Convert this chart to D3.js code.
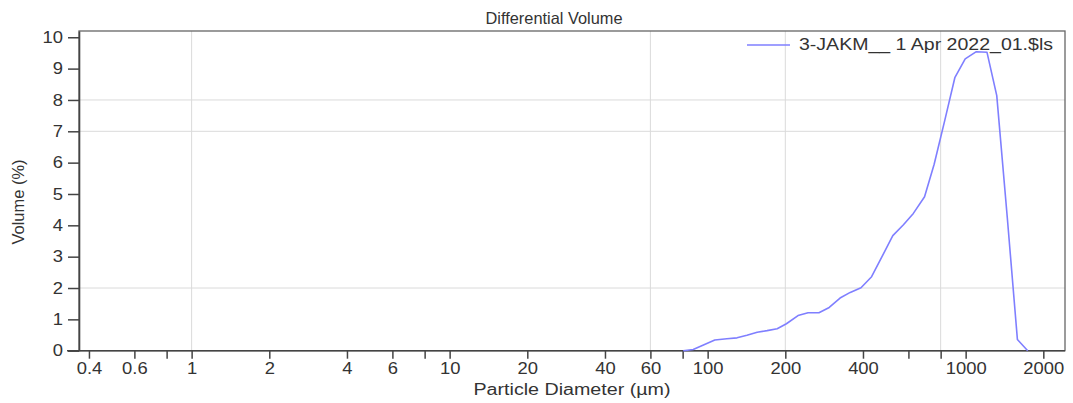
<!DOCTYPE html>
<html>
<head>
<meta charset="utf-8">
<script src="https://cdn.jsdelivr.net/npm/d3@7"></script>
<style>
  body { margin: 0; background: #fff; }
  svg { font-family: "Liberation Sans", Arial, sans-serif; }
  .tick text { fill: #333; }
</style>
</head>
<body>
<svg id="chart" width="1073" height="403"></svg>
<script>
// particle diameter (µm) and differential volume (%)
var diameter = [80.4, 87.9, 96.8, 106.6, 118.7, 130, 142, 155.6, 170, 186, 202, 224, 245, 270, 296, 326, 357, 393, 432, 474, 522, 574, 627, 693, 755, 830, 908, 996, 1100, 1210, 1320, 1450, 1587, 1740];
var volume   = [0, 0.04, 0.19, 0.34, 0.38, 0.41, 0.49, 0.59, 0.64, 0.70, 0.86, 1.12, 1.21, 1.21, 1.38, 1.68, 1.86, 2.01, 2.36, 3.0, 3.67, 4.02, 4.38, 4.91, 5.95, 7.35, 8.71, 9.31, 9.54, 9.52, 8.14, 4.25, 0.36, 0];
var xTicks = [0.4, 0.6, 0.8, 1, 2, 4, 6, 8, 10, 20, 40, 60, 80, 100, 200, 400, 600, 800, 1000, 2000];
var xUnlabeled = [0.8, 8, 80, 600, 800];
var yTicks = [0, 1, 2, 3, 4, 5, 6, 7, 8, 9, 10];
var xGrid = [1, 60, 200, 800];
var yGrid = [2, 7, 8];
var seriesName = "3-JAKM__ 1 Apr 2022_01.$ls";

function draw() {
  var pl = 79, pr = 1065, pt = 31, pb = 350.7;
  var svg = d3.select("#chart");

  var x = d3.scaleLog().domain([0.366, 2427]).range([pl, pr]);
  var y = d3.scaleLinear().domain([0, 10.2]).range([pb, pt]);

  // grid
  svg.append("g").selectAll("line").data(xGrid).enter().append("line")
    .attr("x1", d => x(d)).attr("x2", d => x(d))
    .attr("y1", pt).attr("y2", pb)
    .attr("stroke", "#dadada").attr("stroke-width", 1);
  svg.append("g").selectAll("line").data(yGrid).enter().append("line")
    .attr("x1", pl).attr("x2", pr)
    .attr("y1", d => y(d)).attr("y2", d => y(d))
    .attr("stroke", "#dadada").attr("stroke-width", 1);

  // frame
  svg.append("rect")
    .attr("x", pl).attr("y", pt)
    .attr("width", pr - pl).attr("height", pb - pt)
    .attr("fill", "none").attr("stroke", "#666").attr("stroke-width", 1.3);

  // axes
  var xAxis = svg.append("g")
    .attr("transform", "translate(0," + pb + ")")
    .call(d3.axisBottom(x).tickValues(xTicks).tickSizeInner(8).tickSizeOuter(0)
      .tickFormat(d => xUnlabeled.indexOf(d) >= 0 ? "" : d3.format("~g")(d)));
  xAxis.selectAll("text").attr("font-size", 16).attr("y", 12)
    .attr("transform", "scale(1.15,1)");
  xAxis.selectAll("line").attr("stroke", "#444").attr("stroke-width", 1.5);
  xAxis.select(".domain").attr("stroke", "#444").attr("stroke-width", 1.6)
    .attr("d", "M" + (pl - 12) + ",0H" + pr);

  var yAxis = svg.append("g")
    .attr("transform", "translate(" + pl + ",0)")
    .call(d3.axisLeft(y).tickValues(yTicks).tickSizeInner(11).tickSizeOuter(0));
  yAxis.selectAll("text").attr("font-size", 16).attr("x", -14)
    .attr("transform", "scale(1.15,1)");
  yAxis.selectAll("line").attr("stroke", "#444").attr("stroke-width", 1.5);
  yAxis.select(".domain").attr("stroke", "#444").attr("stroke-width", 1.6);

  // series
  svg.append("path")
    .datum(diameter.map((d, i) => [d, volume[i]]))
    .attr("fill", "none")
    .attr("stroke", "#7f7fff")
    .attr("stroke-width", 1.6)
    .attr("stroke-linejoin", "round")
    .attr("d", d3.line().x(d => x(d[0])).y(d => y(d[1])));

  // titles
  svg.append("text").attr("x", 554).attr("y", 24).attr("text-anchor", "middle")
    .attr("font-size", 16.5).attr("fill", "#333")
    .attr("textLength", 137).attr("lengthAdjust", "spacingAndGlyphs")
    .text("Differential Volume");
  svg.append("text").attr("x", 572).attr("y", 395).attr("text-anchor", "middle")
    .attr("font-size", 16).attr("fill", "#333")
    .attr("textLength", 197).attr("lengthAdjust", "spacingAndGlyphs")
    .text("Particle Diameter (µm)");
  svg.append("text").attr("transform", "translate(24,202) rotate(-90)")
    .attr("text-anchor", "middle").attr("font-size", 16.5).attr("fill", "#333")
    .attr("textLength", 85).attr("lengthAdjust", "spacingAndGlyphs")
    .text("Volume (%)");

  // legend
  svg.append("line").attr("x1", 747).attr("x2", 790).attr("y1", 45).attr("y2", 45)
    .attr("stroke", "#7f7fff").attr("stroke-width", 1.6);
  svg.append("text").attr("x", 799).attr("y", 50).attr("font-size", 16.5)
    .attr("fill", "#333")
    .attr("textLength", 254).attr("lengthAdjust", "spacingAndGlyphs")
    .text(seriesName);
}
draw();
</script>
</body>
</html>
